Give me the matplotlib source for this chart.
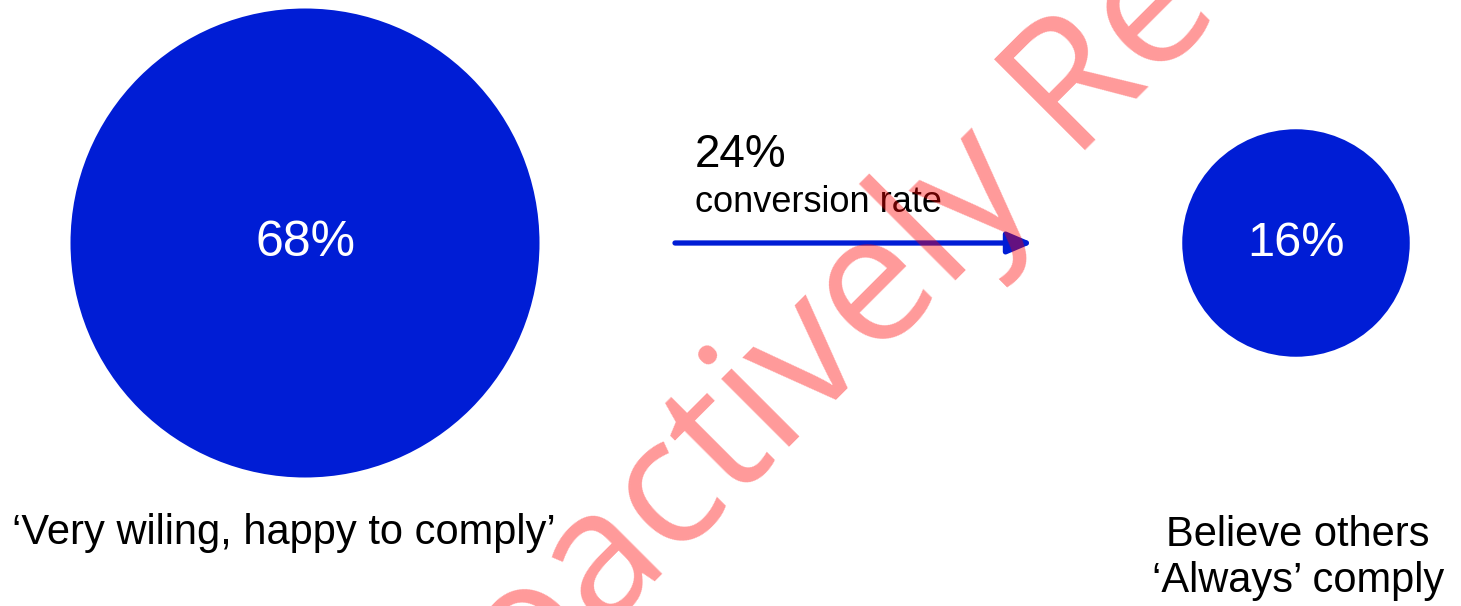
import numpy as np
from matplotlib import pyplot as plt
from matplotlib.patches import Circle

# ---- data ----
shares = [68, 16]                      # % of respondents
share_labels = ["68%", "16%"]
group_names = ["\u2018Very wiling, happy to comply\u2019",
               "Believe others\n\u2018Always\u2019 comply"]
conversion = 24
conversion_label = "conversion rate"

# ---- styling ----
blue = "#001DD5"
font = "Liberation Sans"
W, H = 1461, 606

fig = plt.figure(figsize=(W / 100, H / 100), dpi=100)
ax = fig.add_axes([0, 0, 1, 1])
ax.set_xlim(0, W)
ax.set_ylim(H, 0)
ax.axis("off")

# bubble area proportional to share
k = 234.5 / np.sqrt(shares[0])
centers = [(305, 243), (1296, 243)]
sizes = [36, 35]
for (cx, cy), v, lab, fs in zip(centers, shares, share_labels, sizes):
    ax.add_patch(Circle((cx, cy), k * np.sqrt(v), color=blue, lw=0))
    ax.text(cx, cy, lab, color="white", fontsize=fs, family=font,
            ha="center", va="center")

# group captions
ax.text(12, 533, group_names[0], fontsize=30, family=font, ha="left", va="center")
ax.text(1298, 558, group_names[1], fontsize=30, family=font,
        ha="center", va="center", multialignment="center", linespacing=1.2)

# conversion arrow
ax.annotate("", xy=(1033, 243), xytext=(675, 243),
            arrowprops=dict(arrowstyle="-|>,head_length=0.75,head_width=0.32",
                            lw=3.8, color=blue, shrinkA=0, shrinkB=0,
                            mutation_scale=20))
ax.text(695, 155, f"{conversion}%", fontsize=33, family=font, ha="left", va="center")
ax.text(695, 203, conversion_label, fontsize=26, family=font, ha="left", va="center")

# watermark
ax.text(399, 838, "Proactively Re", fontsize=129, family="Open Sans",
        color="red", alpha=0.4, rotation=45, rotation_mode="anchor",
        ha="left", va="baseline", zorder=10)

fig.savefig("out.png", dpi=100)
